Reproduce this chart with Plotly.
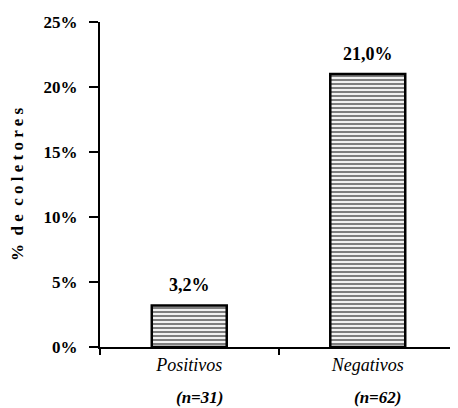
import plotly.graph_objects as go

categories = ["Positivos", "Negativos"]
sample_sizes = ["(n=31)", "(n=62)"]
values = [3.2, 21.0]
value_labels = ["3,2%", "21,0%"]
y_ticks = [0, 5, 10, 15, 20, 25]
y_tick_labels = ["0%", "5%", "10%", "15%", "20%", "25%"]

FONT = "Liberation Serif"

fig = go.Figure()
fig.add_trace(go.Bar(
    x=categories,
    y=values,
    width=0.42,
    marker=dict(
        color="white",
        line=dict(color="black", width=2.5),
        pattern=dict(shape="-", fgcolor="black", bgcolor="white", size=4, solidity=0.55),
    ),
    showlegend=False,
))

for cat, v, lab in zip(categories, values, value_labels):
    fig.add_annotation(
        x=cat, y=v, xref="x", yref="y",
        text=f"<b>{lab}</b>",
        showarrow=False, yanchor="bottom", yshift=8,
        font=dict(family=FONT, size=18, color="black"),
    )

for cat, n in zip(categories, sample_sizes):
    fig.add_annotation(
        x=cat, y=0, xref="x", yref="y",
        text=f"<b><i>{n}</i></b>",
        showarrow=False, yanchor="middle", yshift=-50, xshift=10,
        font=dict(family=FONT, size=17, color="black"),
    )

fig.update_layout(
    width=450, height=400,
    margin=dict(l=92, r=1, t=14, b=61),
    paper_bgcolor="white", plot_bgcolor="white",
    font=dict(family=FONT, color="black"),
    xaxis=dict(
        type="category",
        range=[-0.5, 1.5],
        tickmode="array",
        tickvals=categories,
        ticktext=[f"<i>{c}</i>" for c in categories],
        tickfont=dict(family=FONT, size=18, color="black"),
        tickson="boundaries",
        ticks="outside", ticklen=6, tickwidth=2, tickcolor="black",
        showline=True, linecolor="black", linewidth=2,
        showgrid=False, zeroline=False,
    ),
    yaxis=dict(
        range=[0, 25],
        tickmode="array",
        tickvals=y_ticks,
        ticktext=[f"<b>{t}</b>" for t in y_tick_labels],
        tickfont=dict(family=FONT, size=17, color="black"),
        ticks="outside", ticklen=9, tickwidth=2, tickcolor="black",
        ticklabelstandoff=8,
        showline=True, linecolor="black", linewidth=2,
        showgrid=False, zeroline=False,
        title=dict(text="<b>%  d e  c o l e t o r e s</b>", font=dict(family=FONT, size=17, color="black"), standoff=18),
    ),
)

fig.write_html("out.html")
